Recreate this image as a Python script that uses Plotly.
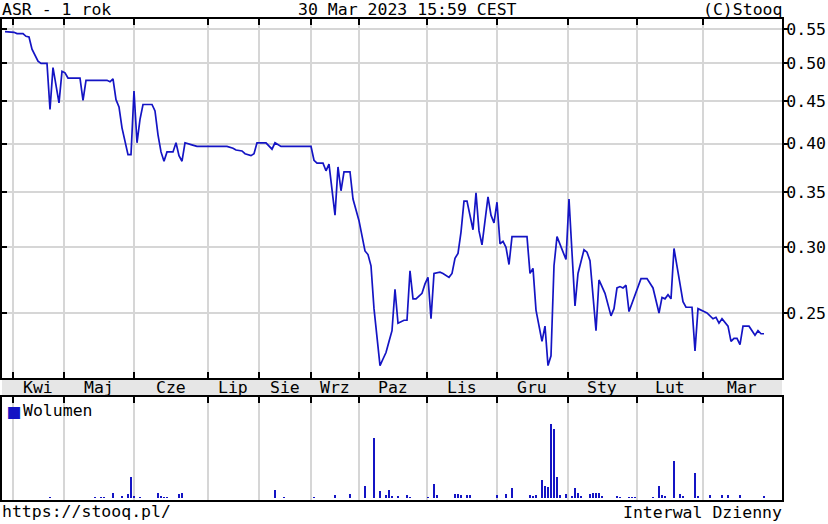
import plotly.graph_objects as go
import math

# ---- data ----
price_session = [1, 4, 5, 7, 8, 9, 10, 12, 13, 15, 16, 17, 19, 20, 21, 22, 26, 27, 28, 35, 36, 37, 38, 39, 40,
                 42, 43, 44, 45, 46, 47, 50, 51, 52, 53, 54, 55, 57, 58, 59, 60, 61, 63, 65, 75, 77, 78, 80, 81,
                 83, 84, 85, 88, 90, 91, 93, 103, 104, 105, 107, 108, 109, 111, 112, 113, 114, 116, 117, 119,
                 120, 121, 122, 123, 124, 125, 126, 127, 128, 129, 130, 131, 132, 134, 135, 136, 137, 138, 140,
                 141, 142, 143, 144, 146, 147, 149, 150, 151, 152, 153, 154, 155, 157, 158, 159, 160, 162, 163,
                 164, 165, 166, 167, 168, 169, 170, 175, 176, 177, 178, 180, 181, 182, 183, 184, 185, 188, 189,
                 191, 192, 194, 195, 196, 198, 199, 201, 203, 204, 205, 206, 207, 208, 209, 211, 213, 215, 217,
                 219, 220, 221, 222, 223, 224, 226, 227, 228, 230, 231, 232, 234, 235, 237, 238, 239, 240, 242,
                 243, 244, 245, 246, 247, 249, 251, 252, 253, 254]
price_close = [0.546, 0.545, 0.543, 0.543, 0.539, 0.538, 0.520, 0.503, 0.500, 0.500, 0.440, 0.494, 0.448, 0.489,
               0.487, 0.480, 0.480, 0.451, 0.477, 0.477, 0.475, 0.479, 0.452, 0.443, 0.418, 0.388, 0.388, 0.463,
               0.401, 0.428, 0.446, 0.446, 0.438, 0.410, 0.391, 0.381, 0.391, 0.391, 0.401, 0.387, 0.381, 0.401,
               0.399, 0.397, 0.397, 0.395, 0.393, 0.392, 0.389, 0.387, 0.389, 0.401, 0.401, 0.394, 0.401, 0.397,
               0.397, 0.382, 0.379, 0.379, 0.371, 0.378, 0.328, 0.375, 0.351, 0.370, 0.370, 0.343, 0.323, 0.310,
               0.297, 0.294, 0.285, 0.253, 0.234, 0.216, 0.220, 0.224, 0.231, 0.238, 0.267, 0.243, 0.245, 0.245,
               0.281, 0.260, 0.260, 0.264, 0.271, 0.276, 0.246, 0.279, 0.280, 0.279, 0.276, 0.279, 0.291, 0.295,
               0.313, 0.341, 0.341, 0.315, 0.349, 0.314, 0.302, 0.345, 0.328, 0.321, 0.340, 0.303, 0.305, 0.300,
               0.286, 0.309, 0.309, 0.279, 0.283, 0.252, 0.231, 0.241, 0.216, 0.222, 0.285, 0.309, 0.290, 0.343,
               0.255, 0.279, 0.298, 0.296, 0.289, 0.238, 0.274, 0.264, 0.248, 0.253, 0.268, 0.269, 0.268, 0.270,
               0.251, 0.262, 0.275, 0.275, 0.268, 0.250, 0.261, 0.260, 0.263, 0.260, 0.299, 0.271, 0.258, 0.254,
               0.254, 0.225, 0.253, 0.251, 0.250, 0.246, 0.247, 0.243, 0.246, 0.241, 0.231, 0.233, 0.233, 0.229,
               0.241, 0.241, 0.235, 0.238, 0.236, 0.236]

vol_session = [16, 31, 33, 34, 37, 40, 42, 43, 44, 46, 52, 53, 54, 55, 59, 60, 91, 94, 104, 111, 116, 121, 124,
               126, 128, 129, 130, 132, 135, 136, 142, 144, 145, 151, 152, 153, 155, 156, 165, 168, 170, 176,
               177, 178, 180, 181, 182, 183, 184, 185, 186, 188, 190, 191, 192, 193, 196, 197, 198, 199, 200,
               205, 206, 209, 210, 211, 217, 219, 220, 221, 224, 226, 227, 231, 232, 236, 240, 242, 246, 254]
volume = [1000, 1000, 1000, 1000, 5300, 1700, 4300, 21000, 1700, 1000, 5300, 1700, 1000, 1000, 4300, 5300,
          7700, 1000, 1000, 2700, 4300, 11700, 60000, 7000, 2700, 7700, 1700, 1700, 2700, 1000, 1000, 14300,
          2700, 4300, 4300, 2700, 2700, 2700, 2700, 4300, 10000, 2700, 1700, 2700, 17700, 11700, 11000, 73700,
          68700, 21000, 2700, 4300, 1700, 10000, 5000, 1700, 4300, 5300, 5300, 5300, 1700, 1700, 1000, 1000,
          1000, 1000, 1000, 11700, 2700, 1700, 37000, 4300, 1700, 25300, 1700, 2700, 2700, 2700, 2700, 1700]

month_start = [3.5, 20.5, 44, 68.5, 85.5, 103, 119, 141.5, 165, 188.5, 211.5, 233.5]
month_names = ["Kwi", "Maj", "Cze", "Lip", "Sie", "Wrz", "Paz", "Lis", "Gru", "Sty", "Lut", "Mar"]
session_end = 260

price_ticks = [0.25, 0.30, 0.35, 0.40, 0.45, 0.50, 0.55]
price_min, price_max = 0.2087, 0.5655
vol_range = [-2000, 101000]

title_left = "ASR - 1 rok"
title_mid = "30 Mar 2023 15:59 CEST"
title_right = "(C)Stooq"
foot_left = "https://stooq.pl/"
foot_right = "Interwal Dzienny"
vol_label = "Wolumen"

# ---- style ----
FONT = "DejaVu Sans Mono"
FS = 16.5
BLUE = "#1414c4"
GRID = "#d6d6d6"
W, H = 828, 524
ML, MR, MT, MB = 2, 46, 19, 24
PH = H - MT - MB  # plot height in px


def py(px):  # figure pixel y -> paper y
    return (H - MB - px) / PH


def pxx(px):  # figure pixel x -> paper x
    return (px - ML) / (W - ML - MR)


price_dom = [py(378), 1]
vol_dom = [0, py(397)]

fig = go.Figure()
fig.add_trace(go.Scatter(x=price_session, y=price_close, mode="lines",
                         line=dict(color=BLUE, width=1.7), xaxis="x", yaxis="y",
                         showlegend=False, hoverinfo="skip"))
fig.add_trace(go.Scatter(x=[price_session[0]], y=[price_close[0]], mode="markers",
                         marker=dict(opacity=0), xaxis="x", yaxis="y3",
                         showlegend=False, hoverinfo="skip"))
fig.add_trace(go.Bar(x=vol_session, y=volume, width=0.55, marker=dict(color=BLUE, line=dict(width=0)),
                     xaxis="x2", yaxis="y2", showlegend=False, hoverinfo="skip"))

yr = [math.log10(price_min), math.log10(price_max)]
xr = [0, session_end]

fig.update_layout(
    width=W, height=H,
    margin=dict(l=ML, r=MR, t=MT, b=MB, pad=0, autoexpand=False),
    paper_bgcolor="white", plot_bgcolor="white",
    font=dict(family=FONT, size=FS, color="black"),
    bargap=0,
    xaxis=dict(domain=[0, 1], range=xr, anchor="y", tickmode="array", tickvals=month_start,
               showticklabels=False, ticks="inside", ticklen=6, tickwidth=2, tickcolor="black",
               showgrid=True, gridcolor=GRID, gridwidth=2, zeroline=False, automargin=False,
               showline=True, linecolor="black", linewidth=2, mirror="ticks"),
    yaxis=dict(domain=price_dom, type="log", range=yr, anchor="x", side="right",
               tickmode="array", tickvals=price_ticks, ticktext=["%.2f" % v for v in price_ticks],
               ticks="outside", ticklen=5, tickwidth=1.5, tickcolor="black", automargin=False,
               ticklabelstandoff=-6,
               showgrid=True, gridcolor=GRID, gridwidth=2, zeroline=False,
               showline=True, linecolor="black", linewidth=2, mirror=True,
               tickfont=dict(family=FONT, size=FS)),
    yaxis3=dict(overlaying="y", type="log", range=yr, anchor="x", side="left",
                tickmode="array", tickvals=price_ticks, showticklabels=False, automargin=False,
                ticks="inside", ticklen=5, tickwidth=1.5, tickcolor="black",
                showgrid=False, zeroline=False, showline=False),
    xaxis2=dict(domain=[0, 1], range=xr, anchor="y2", side="top", tickmode="array",
                tickvals=month_start, showticklabels=False, ticks="inside", ticklen=6, tickwidth=2,
                tickcolor="black", showgrid=True, gridcolor=GRID, gridwidth=2, zeroline=False,
                showline=True, linecolor="black", linewidth=2, mirror=True, automargin=False),
    yaxis2=dict(domain=vol_dom, range=vol_range, anchor="x2", showticklabels=False, ticks="",
                showgrid=False, zeroline=False, showline=True, linecolor="black", linewidth=2,
                mirror=True, automargin=False),
)

# month label band
fig.add_shape(type="rect", xref="paper", yref="paper", x0=0, x1=1, y0=vol_dom[1], y1=price_dom[0],
              fillcolor="#e6e6e6", line=dict(width=0), layer="below")

annotations = []
bounds = month_start + [session_end]
for i, name in enumerate(month_names):
    annotations.append(dict(x=(bounds[i] + bounds[i + 1]) / 2, xref="x", y=py(387.5), yref="paper",
                            text=name, showarrow=False, xanchor="center", yanchor="middle"))

annotations += [
    dict(x=pxx(0), y=py(9.5), xref="paper", yref="paper", text=title_left, showarrow=False,
         xanchor="left", yanchor="middle"),
    dict(x=pxx(407), y=py(9.5), xref="paper", yref="paper", text=title_mid, showarrow=False,
         xanchor="center", yanchor="middle"),
    dict(x=pxx(784), y=py(9.5), xref="paper", yref="paper", text=title_right, showarrow=False,
         xanchor="right", yanchor="middle"),
    dict(x=pxx(0), y=py(511), xref="paper", yref="paper", text=foot_left, showarrow=False,
         xanchor="left", yanchor="middle"),
    dict(x=pxx(784), y=py(512), xref="paper", yref="paper", text=foot_right, showarrow=False,
         xanchor="right", yanchor="middle"),
    dict(x=pxx(6), y=py(411), xref="paper", yref="paper",
         text="<span style='color:%s'>■</span>" % BLUE, showarrow=False,
         xanchor="left", yanchor="middle", font=dict(size=20)),
    dict(x=pxx(21), y=py(410), xref="paper", yref="paper", text=vol_label, showarrow=False,
         xanchor="left", yanchor="middle"),
]
fig.update_layout(annotations=annotations)

fig.write_html("out.html", config={"displayModeBar": False},
               post_script="document.body.style.margin='0';document.body.style.overflow='hidden';")
